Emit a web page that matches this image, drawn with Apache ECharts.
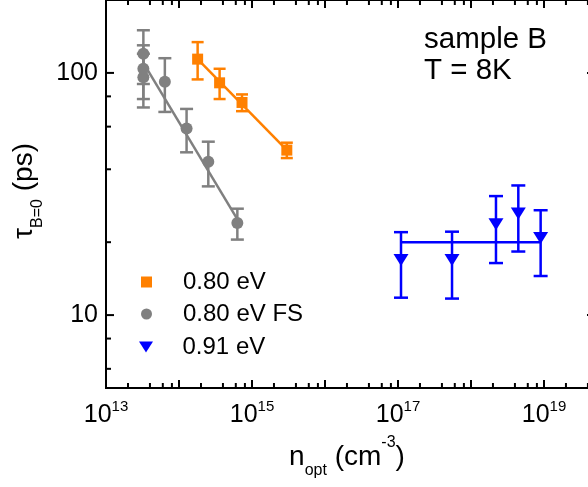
<!DOCTYPE html>
<html><head><meta charset="utf-8">
<script src="https://cdn.jsdelivr.net/npm/echarts@6/dist/echarts.min.js"></script>
<style>html,body{margin:0;padding:0;background:#fff}#c{width:588px;height:487px}</style>
</head><body><div id="c"></div>
<script>
const FONT = 'Liberation Sans, Arial, sans-serif';
const ORANGE = '#FF8000', GRAY = '#808080', BLUE = '#0000FF';

// 0.80 eV
const orangeX = [1.8e14, 3.6e14, 7.3e14, 3.0e15];
const orangeY = [114, 91, 75.5, 48];
const orangeErr = [20, 13, 6, 3.5];
const orangeFitX = [1.8e14, 3.0e15];
const orangeFitY = [114, 48];
// 0.80 eV FS
const grayX = [3.25e13, 3.25e13, 3.25e13, 6.4e13, 1.27e14, 2.52e14, 6.3e14];
const grayY = [120, 104, 96, 92, 59, 43, 24];
const grayErr = [30, 26, 24, 23, 12, 9, 3.5];
const grayFitX = [3.25e13, 6.5e14];
const grayFitY = [110, 24.5];
// 0.91 eV
const blueX = [1.1e17, 5.5e17, 2.2e18, 4.45e18, 9.0e18];
const blueY = [16.9, 16.9, 23.7, 26.3, 20.8];
const blueErr = [5.1, 5.2, 7.3, 8, 6.3];
const blueFitX = [1.1e17, 9.0e18];
const blueFitY = [20, 20];

// axis ticks
const xMajorTicks = [1e13, 1e14, 1e15, 1e16, 1e17, 1e18, 1e19];
const xMinorTicks = [2e13, 4e13, 6e13, 8e13, 2e14, 4e14, 6e14, 8e14, 2e15, 4e15, 6e15, 8e15,
  2e16, 4e16, 6e16, 8e16, 2e17, 4e17, 6e17, 8e17, 2e18, 4e18, 6e18, 8e18, 2e19, 4e19];
const xLabelExponents = [13, 15, 17, 19];
const yMajorTicks = [10, 100];
const yMinorTicks = [6, 8, 20, 40, 60, 80, 200];
const yLabels = [10, 100];

const zip = (a, b) => a.map((v, i) => [v, b[i]]);

function errBars(name, xs, ys, es, color, cap) {
  return {
    type: 'custom', name: name, z: 3, silent: true,
    data: xs.map((x, i) => [x, ys[i] - es[i], ys[i] + es[i]]),
    encode: { x: 0, y: [1, 2] },
    renderItem: function (params, api) {
      const x = api.value(0);
      const lo = api.coord([x, api.value(1)]);
      const hi = api.coord([x, api.value(2)]);
      const st = { stroke: color, lineWidth: 2.5 };
      return { type: 'group', children: [
        { type: 'line', shape: { x1: lo[0], y1: lo[1], x2: hi[0], y2: hi[1] }, style: st },
        { type: 'line', shape: { x1: lo[0] - cap / 2, y1: lo[1], x2: lo[0] + cap / 2, y2: lo[1] }, style: st },
        { type: 'line', shape: { x1: hi[0] - cap / 2, y1: hi[1], x2: hi[0] + cap / 2, y2: hi[1] }, style: st }
      ]};
    }
  };
}
function fitLine(name, xs, ys, color) {
  return { type: 'line', name: name, data: zip(xs, ys), symbol: 'none', z: 2, silent: true,
    lineStyle: { color: color, width: 2.5 } };
}
function isPow10(v) { const l = Math.log10(v); return Math.abs(l - Math.round(l)) < 1e-6; }

const tickStyle = { stroke: '#000', lineWidth: 2 };
const xTickSeries = {
  type: 'custom', silent: true, z: 10,
  data: xMajorTicks.map(v => [v, 10, 1]).concat(xMinorTicks.map(v => [v, 10, 0])),
  encode: { x: 0, y: 1 },
  renderItem: function (params, api) {
    const cs = params.coordSys;
    const px = api.coord([api.value(0), api.value(1)])[0];
    const len = api.value(2) ? 8 : 5;
    const b = cs.y + cs.height, t = cs.y;
    return { type: 'group', children: [
      { type: 'line', shape: { x1: px, y1: b, x2: px, y2: b - len }, style: tickStyle },
      { type: 'line', shape: { x1: px, y1: t, x2: px, y2: t + len }, style: tickStyle }
    ]};
  }
};
const yTickSeries = {
  type: 'custom', silent: true, z: 10,
  data: yMajorTicks.map(v => [1e15, v, 1]).concat(yMinorTicks.map(v => [1e15, v, 0])),
  encode: { x: 0, y: 1 },
  renderItem: function (params, api) {
    const cs = params.coordSys;
    const py = api.coord([api.value(0), api.value(1)])[1];
    const len = api.value(2) ? 8 : 5;
    const l = cs.x, r = cs.x + cs.width;
    return { type: 'group', children: [
      { type: 'line', shape: { x1: l, y1: py, x2: l + len, y2: py }, style: tickStyle },
      { type: 'line', shape: { x1: r, y1: py, x2: r - len, y2: py }, style: tickStyle }
    ]};
  }
};

function legendFor(name, icon, w, h, left, top, gap) {
  return {
    data: [{ name: name, icon: icon }], orient: 'vertical', left: left, top: top, padding: 0,
    itemWidth: w, itemHeight: h, selectedMode: false,
    formatter: n => '{g| }{t|' + n + '}',
    textStyle: { rich: {
      g: { width: gap, fontSize: 10 },
      t: { fontSize: 24, fontFamily: FONT, color: '#000', lineHeight: 28 }
    }}
  };
}

const chart = echarts.init(document.getElementById('c'), null, { renderer: 'canvas' });
chart.setOption({
  animation: false,
  backgroundColor: '#fff',
  grid: { left: 106, right: -7, top: 0, bottom: 99, show: true, borderColor: '#000', borderWidth: 2,
    containLabel: false, outerBoundsMode: 'none' },
  xAxis: {
    type: 'log', logBase: 10, min: 1e13, max: 5e19,
    axisLine: { show: false }, axisTick: { show: false }, splitLine: { show: false },
    axisLabel: {
      margin: 11, showMinLabel: true, showMaxLabel: false, hideOverlap: false,
      formatter: function (v) {
        if (!isPow10(v)) return '';
        const e = Math.round(Math.log10(v));
        if (xLabelExponents.indexOf(e) < 0) return '';
        return '{b|10}{s|' + e + '}';
      },
      rich: {
        b: { fontSize: 25, fontFamily: FONT, color: '#000', lineHeight: 32 },
        s: { fontSize: 15, fontFamily: FONT, color: '#000', lineHeight: 16, verticalAlign: 'top' }
      }
    }
  },
  yAxis: {
    type: 'log', logBase: 10, min: 5, max: 200,
    axisLine: { show: false }, axisTick: { show: false }, splitLine: { show: false },
    axisLabel: {
      margin: 8, fontSize: 25, fontFamily: FONT, color: '#000', showMinLabel: true, showMaxLabel: true,
      formatter: function (v) {
        if (!isPow10(v)) return '';
        const r = Math.round(v);
        return yLabels.indexOf(r) >= 0 ? String(r) : '';
      }
    }
  },
  legend: [
    legendFor('0.80 eV', 'rect', 11, 11, 141, 270, 26),
    legendFor('0.80 eV FS', 'circle', 11, 11, 141, 302, 26),
    legendFor('0.91 eV', 'path://M0,0L14,0L7,11Z', 15, 11, 139, 335, 24)
  ],
  graphic: [
    { type: 'text', x: 424, y: 25, silent: true,
      style: { text: 'sample B', fontSize: 29.5, fontFamily: FONT, fill: '#000', verticalAlign: 'top' } },
    { type: 'text', x: 424, y: 56, silent: true,
      style: { text: 'T = 8K', fontSize: 29.5, fontFamily: FONT, fill: '#000', verticalAlign: 'top' } },
    { type: 'text', x: 347, y: 457, silent: true,
      style: { text: '{n|n}{sub|opt}{n| (cm}{sup|-3}{n|)}', align: 'center', verticalAlign: 'middle',
        rich: {
          n: { fontSize: 28, fontFamily: FONT, fill: '#000', lineHeight: 44 },
          sub: { fontSize: 16, fontFamily: FONT, fill: '#000', lineHeight: 18, verticalAlign: 'bottom' },
          sup: { fontSize: 16, fontFamily: FONT, fill: '#000', lineHeight: 18, verticalAlign: 'top' }
        } } },
    { type: 'text', x: 24, y: 191, rotation: Math.PI / 2, silent: true,
      style: { text: '{n|τ}{sub|B=0}{n| (ps)}', align: 'center', verticalAlign: 'middle',
        rich: {
          n: { fontSize: 28, fontFamily: FONT, fill: '#000', lineHeight: 44 },
          sub: { fontSize: 16, fontFamily: FONT, fill: '#000', lineHeight: 18, verticalAlign: 'bottom' }
        } } }
  ],
  series: [
    fitLine('fitGray', grayFitX, grayFitY, GRAY),
    fitLine('fitOrange', orangeFitX, orangeFitY, ORANGE),
    fitLine('fitBlue', blueFitX, blueFitY, BLUE),
    errBars('errGray', grayX, grayY, grayErr, GRAY, 13),
    errBars('errOrange', orangeX, orangeY, orangeErr, ORANGE, 12),
    errBars('errBlue', blueX, blueY, blueErr, BLUE, 14),
    { type: 'scatter', name: '0.80 eV FS', data: zip(grayX, grayY), symbol: 'circle', symbolSize: 12,
      itemStyle: { color: GRAY, opacity: 1 }, z: 5 },
    { type: 'scatter', name: '0.80 eV', data: zip(orangeX, orangeY), symbol: 'rect', symbolSize: 11,
      itemStyle: { color: ORANGE, opacity: 1 }, z: 5 },
    { type: 'scatter', name: '0.91 eV', data: zip(blueX, blueY), symbol: 'triangle', symbolRotate: 180,
      symbolSize: [15, 12], itemStyle: { color: BLUE, opacity: 1 }, z: 5 },
    xTickSeries, yTickSeries
  ]
});
</script></body></html>
